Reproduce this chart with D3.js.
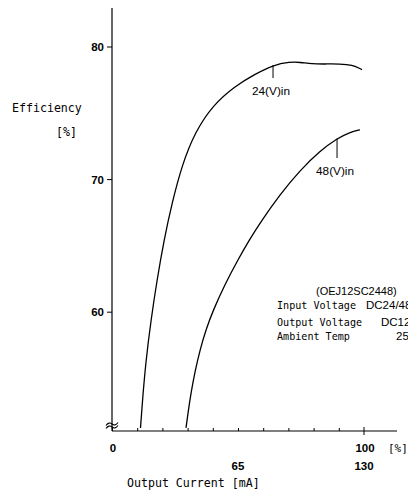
<!DOCTYPE html>
<html>
<head>
<meta charset="utf-8">
<script src="https://cdn.jsdelivr.net/npm/d3@7"></script>
<style>
  html, body { margin: 0; padding: 0; background: #fff; overflow: hidden; }
  svg { display: block; }
  .sans { font-family: "Liberation Sans", Arial, sans-serif; fill: #000; }
  .mono { font-family: "DejaVu Sans Mono", "Liberation Mono", monospace; fill: #000; }
</style>
</head>
<body>
<svg id="chart" width="408" height="491"></svg>
<script>
// ---- data (x in % of rated output current, y in efficiency %) ----
const loadPct24 = [11.31, 12.10, 13.49, 15.48, 17.86, 20.63, 23.81, 27.78, 32.94, 40.08, 48.81, 56.75, 63.89, 70.63, 74.60, 79.37, 84.52, 90.48, 95.24, 99.21];
const eff24     = [51.23, 53.34, 56.35, 59.37, 62.39, 65.40, 68.19, 71.06, 73.55, 75.59, 77.02, 77.92, 78.60, 78.84, 78.81, 78.68, 78.68, 78.69, 78.62, 78.26];
const loadPct48 = [29.37, 30.16, 31.35, 32.94, 34.92, 37.30, 40.08, 44.84, 50.00, 54.76, 58.73, 66.67, 74.60, 82.54, 89.29, 94.44, 98.41];
const eff48     = [51.23, 52.37, 53.87, 55.49, 57.12, 58.65, 60.08, 62.07, 63.93, 65.49, 66.70, 68.85, 70.66, 72.13, 73.06, 73.53, 73.72];
const yTicks = [60, 70, 80];
const xMinorTicks = [0, 10, 20, 30, 40, 50, 60, 70, 80, 90];
const xMajorTick = 100;
const xPctLabels = [{v: 0, t: "0"}, {v: 100, t: "100"}];
const xMaLabels = [{v: 50, t: "65"}, {v: 100, t: "130"}];
const seriesLabels = [
  {name: "24(V)in", at: 63.9, from: 78.6, to: 77.62},
  {name: "48(V)in", at: 89.3, from: 73.06, to: 71.59}
];
const legendRows = [
  {k: "Input Voltage", v: "DC24/48V"},
  {k: "Output Voltage", v: "DC12V"},
  {k: "Ambient Temp", v: "25℃"}
];
const modelName = "(OEJ12SC2448)";

const svg = d3.select("#chart");
const x = d3.scaleLinear().domain([0, 100]).range([112, 364]);
const y = d3.scaleLinear().domain([51, 80]).range([431, 46.5]);
const xEnd = 113.1, yTop = 82.9;

// axes lines
svg.append("line").attr("x1", x(0)).attr("x2", x(0)).attr("y1", y(yTop)).attr("y2", y(51))
  .attr("stroke", "#000").attr("stroke-width", 1.2);
svg.append("line").attr("x1", x(0)).attr("x2", x(xEnd)).attr("y1", y(51)).attr("y2", y(51))
  .attr("stroke", "#000").attr("stroke-width", 1.2);

// y axis ticks & labels
const yAxis = d3.axisLeft(y).tickValues(yTicks).tickSize(5).tickPadding(3).tickFormat(d3.format("d"));
const gy = svg.append("g").attr("transform", `translate(${x(0)},0)`).call(yAxis);
gy.select(".domain").remove();
gy.selectAll("text").attr("class", "sans").attr("font-size", 11.5).attr("font-weight", "bold")
  .attr("font-family", "Liberation Sans, Arial, sans-serif").attr("dy", "0.34em");
gy.selectAll("line").attr("stroke-width", 1);

// x axis minor ticks (upwards)
const xAxis = d3.axisBottom(x).tickValues(xMinorTicks).tickSize(-3).tickFormat("");
const gx = svg.append("g").attr("transform", `translate(0,${y(51)})`).call(xAxis);
gx.select(".domain").remove();
gx.selectAll("line").attr("stroke-width", 1);
// major tick at 100 (crossing)
svg.append("line").attr("x1", x(xMajorTick)).attr("x2", x(xMajorTick))
  .attr("y1", y(51) - 4).attr("y2", y(51) + 4).attr("stroke", "#000").attr("stroke-width", 1);

// axis break symbol
const bx = x(0), by = y(51) - 7;
[0, 3].forEach(off => {
  svg.append("path")
    .attr("d", `M${bx - 6},${by + off + 1.5} q3,-4 6,-1.5 t6,-1.5`)
    .attr("fill", "none").attr("stroke", "#000").attr("stroke-width", 1.1);
});

// x labels
svg.selectAll(".xpct").data(xPctLabels).enter().append("text")
  .attr("class", "sans").attr("font-size", 11.5).attr("font-weight", "bold").attr("text-anchor", "middle")
  .attr("x", d => x(d.v) + 1).attr("y", 452).text(d => d.t);
svg.selectAll(".xma").data(xMaLabels).enter().append("text")
  .attr("class", "sans").attr("font-size", 11.5).attr("font-weight", "bold").attr("text-anchor", "middle")
  .attr("x", d => x(d.v)).attr("y", 470).text(d => d.t);
svg.append("text").attr("class", "mono").attr("font-size", 11)
  .attr("x", 388).attr("y", 452).text("[%]");
svg.append("text").attr("class", "mono").attr("font-size", 11.6)
  .attr("x", 127).attr("y", 487).text("Output Current [mA]");

// y title
svg.append("text").attr("class", "mono").attr("font-size", 11.6)
  .attr("x", 12).attr("y", 112).text("Efficiency");
svg.append("text").attr("class", "mono").attr("font-size", 11.6)
  .attr("x", 56).attr("y", 136).text("[%]");

// curves
const line = d3.line().x(d => x(d[0])).y(d => y(d[1])).curve(d3.curveBasis);
const s24 = loadPct24.map((v, i) => [v, eff24[i]]);
const s48 = loadPct48.map((v, i) => [v, eff48[i]]);
[s24, s48].forEach(s => {
  svg.append("path").attr("d", line(s)).attr("fill", "none").attr("stroke", "#000").attr("stroke-width", 1.3);
});

// series labels
seriesLabels.forEach(l => {
  svg.append("line").attr("x1", x(l.at)).attr("x2", x(l.at)).attr("y1", y(l.from)).attr("y2", y(l.to))
    .attr("stroke", "#000").attr("stroke-width", 1);
  svg.append("text").attr("class", "sans").attr("font-size", 11.8).attr("text-anchor", "middle")
    .attr("x", x(l.at) - 2).attr("y", y(l.to) + 17).text(l.name);
});

// legend block
svg.append("text").attr("class", "sans").attr("font-size", 11).attr("x", 316).attr("y", 295).text(modelName);
const legendKeyX = 277, legendValX = [366, 381, 396], legendY = [309, 326, 340];
legendRows.forEach((r, i) => {
  svg.append("text").attr("class", "mono").attr("font-size", 10.1)
    .attr("x", legendKeyX).attr("y", legendY[i]).text(r.k);
  svg.append("text").attr("class", "sans").attr("font-size", 11.5)
    .attr("x", legendValX[i]).attr("y", legendY[i]).text(r.v);
});
</script>
</body>
</html>
